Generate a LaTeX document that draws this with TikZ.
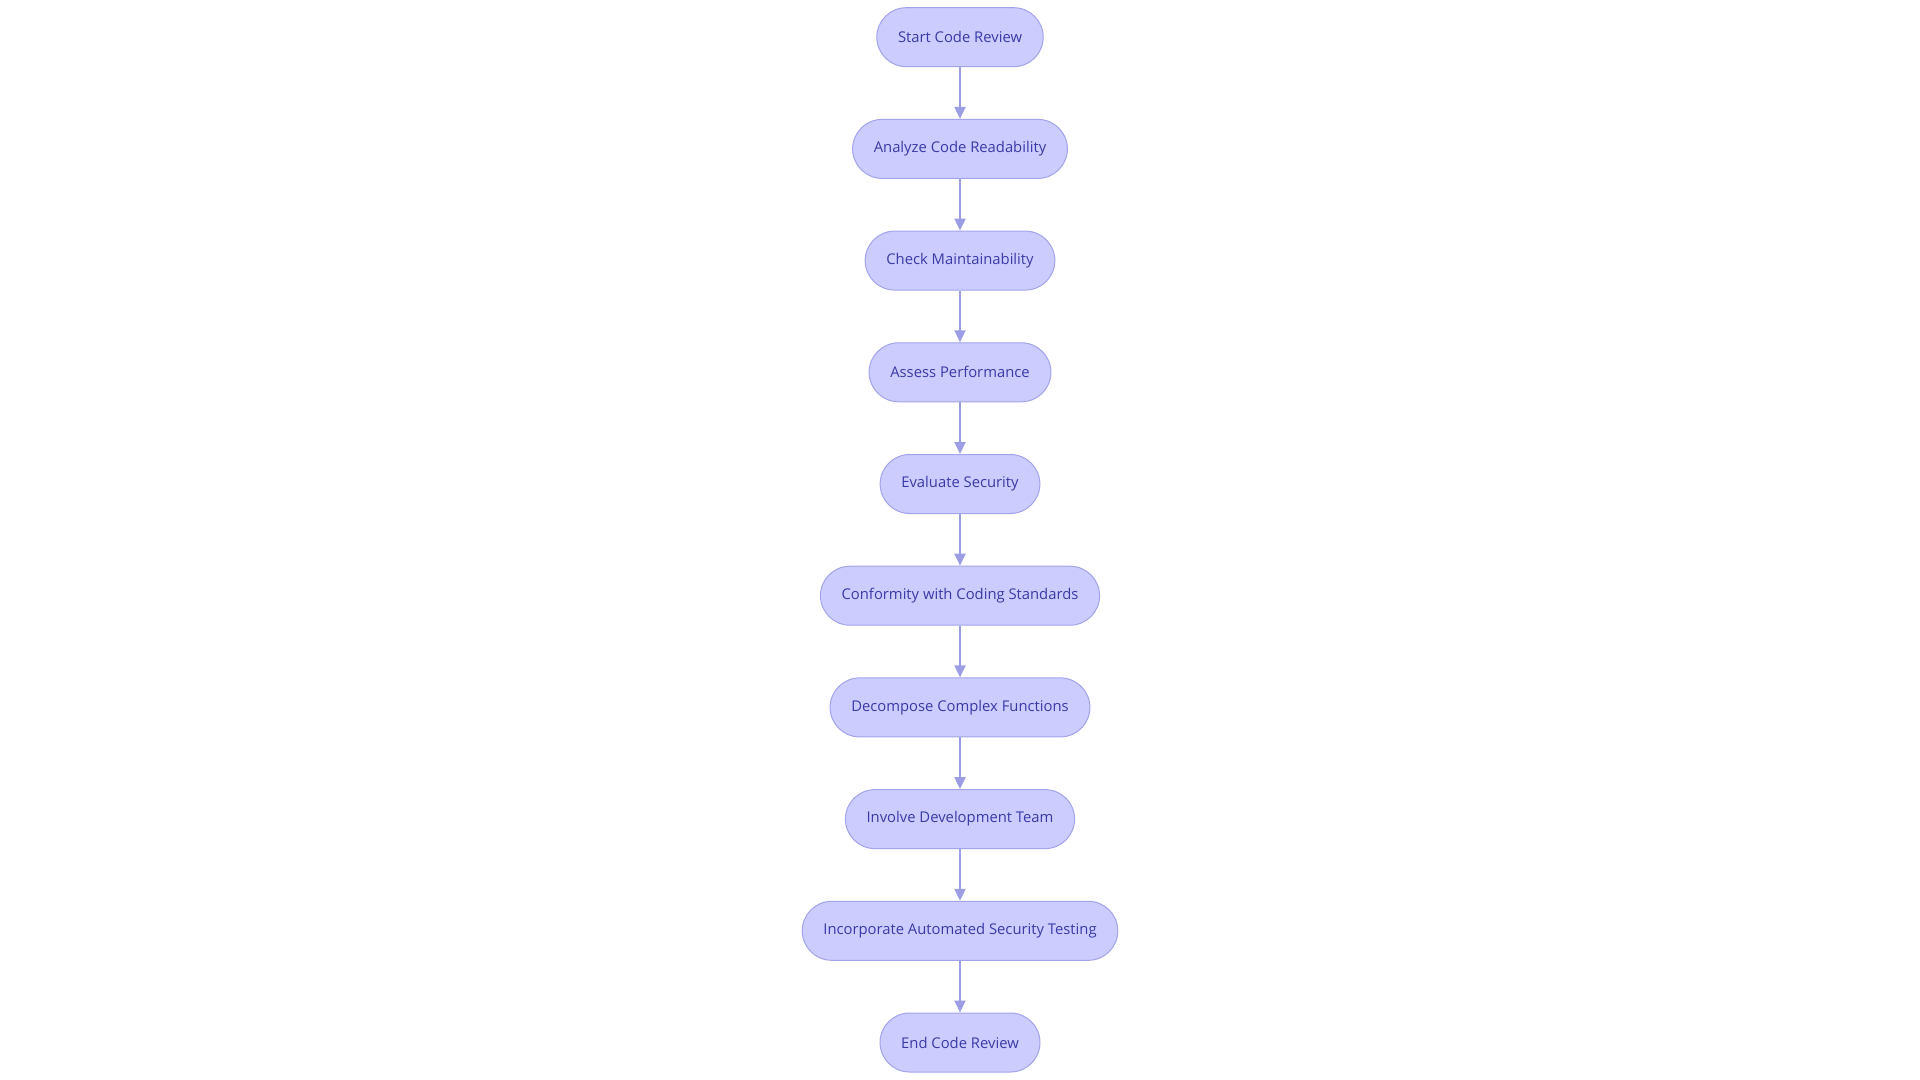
\documentclass[tikz,border=0pt]{standalone}
\usepackage{fontspec}
\setmainfont{Open Sans}
\usetikzlibrary{positioning,arrows.meta}
\definecolor{boxfill}{HTML}{CCCCFF}
\definecolor{boxline}{HTML}{A3A3EA}
\definecolor{boxtext}{HTML}{3A3AA6}
\definecolor{linecol}{HTML}{9D9DE6}
\tikzstyle{block} = [rectangle, draw=boxline, fill=boxfill, text=boxtext,
    line width=0.5pt, rounded corners=14.75pt, minimum height=29.5pt,
    inner xsep=10.6pt, font=\fontsize{7.4}{9}\selectfont]
\tikzstyle{line} = [draw=linecol, line width=1pt, -{Triangle[length=6pt,width=5.5pt]}]

\begin{document}
\begin{tikzpicture}[node distance = 25.85pt, auto]
    \useasboundingbox (0,0) rectangle (960pt,-540pt);
    % Place nodes
    \node [block] (start) at (480pt,-18.6pt) {Start Code Review};
    \node [block, below = of start] (readability) {Analyze Code Readability};
    \node [block, below = of readability] (maintain) {Check Maintainability};
    \node [block, below = of maintain] (perform) {Assess Performance};
    \node [block, below = of perform] (security) {Evaluate Security};
    \node [block, below = of security] (standards) {Conformity with Coding Standards};
    \node [block, below = of standards] (decompose) {Decompose Complex Functions};
    \node [block, below = of decompose] (team) {Involve Development Team};
    \node [block, below = of team] (autotest) {Incorporate Automated Security Testing};
    \node [block, below = of autotest] (finish) {End Code Review};
    \path [line] (start) -- (readability);
    \path [line] (readability) -- (maintain);
    \path [line] (maintain) -- (perform);
    \path [line] (perform) -- (security);
    \path [line] (security) -- (standards);
    \path [line] (standards) -- (decompose);
    \path [line] (decompose) -- (team);
    \path [line] (team) -- (autotest);
    \path [line] (autotest) -- (finish);
\end{tikzpicture}
\end{document}
